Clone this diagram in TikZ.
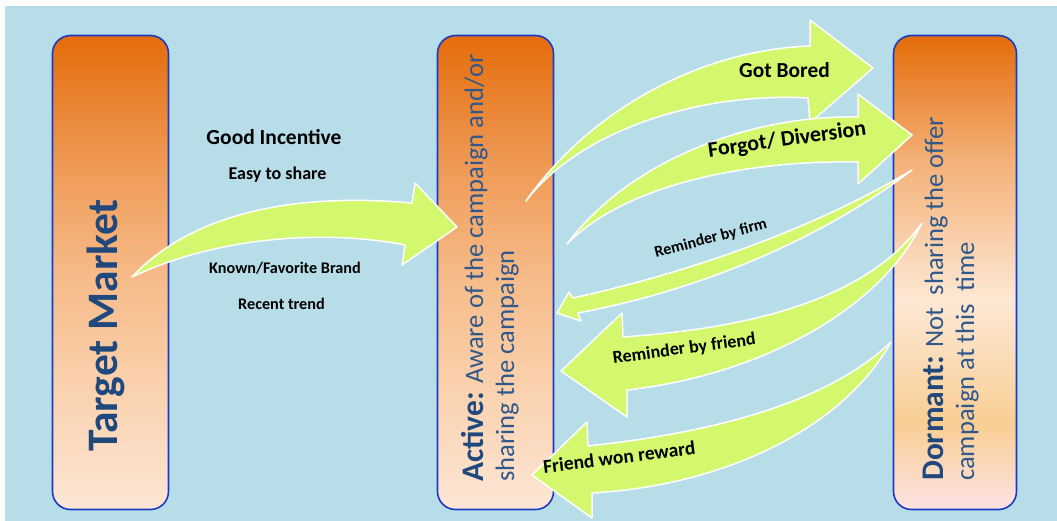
\documentclass[tikz,border=0pt]{standalone}
\usepackage{fontspec}
\setmainfont{Carlito}
\usetikzlibrary{calc}
\definecolor{bgblue}{RGB}{183,221,232}
\definecolor{arrowgreen}{RGB}{211,248,110}
\definecolor{boxline}{RGB}{28,58,196}
\definecolor{titleblue}{RGB}{31,73,125}
\definecolor{textblue}{RGB}{48,88,138}
\definecolor{orangetop}{RGB}{228,108,10}
\definecolor{peachA}{RGB}{238,150,80}
\definecolor{peachB}{RGB}{246,186,135}
\definecolor{peachC}{RGB}{250,210,175}
\definecolor{peachD}{RGB}{252,230,214}
\definecolor{dormA}{RGB}{244,176,118}
\definecolor{dormB}{RGB}{253,232,212}
\definecolor{dormC}{RGB}{249,206,148}
\definecolor{dormD}{RGB}{253,226,228}
\pgfdeclareverticalshading{stagefade}{100bp}{color(0bp)=(peachD); color(25bp)=(peachD); color(37.5bp)=(peachC); color(50bp)=(peachB); color(62.5bp)=(peachA); color(75bp)=(orangetop); color(100bp)=(orangetop)}
\pgfdeclareverticalshading{dormantfade}{100bp}{color(0bp)=(dormD); color(25bp)=(dormD); color(34bp)=(dormC); color(47bp)=(dormB); color(62bp)=(dormA); color(75bp)=(orangetop); color(100bp)=(orangetop)}
\newcommand\lblsize[1]{\fontsize{#1}{#1}\selectfont}
\tikzset{
  stagebox/.style={rectangle, rounded corners=18pt, draw=boxline, line width=1.6pt, shade, minimum width=116pt, minimum height=474pt, inner sep=0pt},
  blockarrow/.style={fill=arrowgreen, draw=white, line width=1.5pt, line join=round},
  boxtext/.style={rotate=90, anchor=base west, inner sep=0pt, text=textblue},
  arrowlabel/.style={anchor=base, inner sep=0pt, font=\bfseries},
}

\begin{document}
\begin{tikzpicture}[x=1pt,y=-1pt]
		%%%%% START %%%%%
		\useasboundingbox (0,0) rectangle (1057,521);
		\fill[bgblue] (5,6) rectangle (1057,521);
		
		% stages
		\node[stagebox, shading=stagefade] (target) at (110.5,272.5) {};
		\node[stagebox, shading=stagefade] (active) at (495.5,272.5) {};
		\node[stagebox, shading=dormantfade, minimum width=123pt] (dormant) at (955,272.5) {};
		
		% target market -> active
		\path[blockarrow] (132,277) .. controls (190,215) and (290,192) .. (412,203)
			-- (415,183) -- (457,227) -- (402,265) -- (405,245)
			.. controls (330,230) and (220,235) .. (132,277) -- cycle;
		
		% active -> dormant
		\path[blockarrow] (526,201) .. controls (590,110) and (700,50) .. (810,46)
			-- (810,20) -- (873,68) -- (810,123) -- (808,98)
			.. controls (700,92) and (580,130) .. (526,201) -- cycle;
		\path[blockarrow] (567,244) .. controls (630,160) and (750,115) .. (858,117)
			-- (858,94) -- (912,135) -- (858,184) -- (858,162)
			.. controls (760,160) and (630,180) .. (567,244) -- cycle;
		
		% dormant -> active
		\path[blockarrow] (912,170) .. controls (820,225) and (700,270) .. (573,298)
			-- (569,292) -- (557,313) -- (581,321) -- (578,313)
			.. controls (700,290) and (820,240) .. (912,170) -- cycle;
		\path[blockarrow] (922,223) .. controls (880,310) and (760,375) .. (627,390)
			-- (627,417) -- (561,371) -- (622,313) -- (623,337)
			.. controls (720,330) and (860,310) .. (922,223) -- cycle;
		\path[blockarrow] (891,342) .. controls (845,425) and (730,485) .. (592,493)
			-- (592,518) -- (532,475) -- (587,422) -- (588,446)
			.. controls (690,435) and (820,410) .. (891,342) -- cycle;
		
		% stage texts
		\node[boxtext, text=titleblue, font=\lblsize{43.5}\bfseries] (targettext) at (117,452) {Target Market};
		\node[boxtext, font=\lblsize{26.6}] (activetext) at (483,482) {{\lblsize{31.5}\bfseries\color{titleblue}Active:} Aware of the campaign and/or};
		\node[boxtext, font=\lblsize{26.6}] (activetextb) at (514,482) {sharing the campaign};
		\node[boxtext, font=\lblsize{26.6}] (dormanttext) at (943,481) {{\lblsize{31.5}\bfseries\color{titleblue}Dormant:} Not\ \ sharing the offer};
		\node[boxtext, font=\lblsize{26.6}] (dormanttextb) at (974,481) {campaign at this\ \ time};
		
		% reasons
		\node[arrowlabel, font=\lblsize{21.5}\bfseries] (incentive) at (274,145) {Good Incentive};
		\node[arrowlabel, font=\lblsize{18}\bfseries] (easy) at (277.5,180) {Easy to share};
		\node[arrowlabel, font=\lblsize{16.2}\bfseries] (brand) at (285,274) {Known/Favorite Brand};
		\node[arrowlabel, font=\lblsize{16.2}\bfseries] (trend) at (281.5,309) {Recent trend};
		
		\node[arrowlabel, font=\lblsize{21.4}\bfseries] (bored) at (784.5,78) {Got Bored};
		\node[arrowlabel, font=\lblsize{22}\bfseries, rotate=8] (forgot) at (788,146) {Forgot/ Diversion};
		\node[arrowlabel, font=\lblsize{16}\bfseries, rotate=15] (firm) at (712,243) {Reminder by firm};
		\node[arrowlabel, font=\lblsize{18}\bfseries, rotate=7.6] (friend) at (685,354) {Reminder by friend};
		\node[arrowlabel, font=\lblsize{19.5}\bfseries, rotate=7] (reward) at (620,464) {Friend won reward};
		%%%%% END %%%%%
\end{tikzpicture}
\end{document}
